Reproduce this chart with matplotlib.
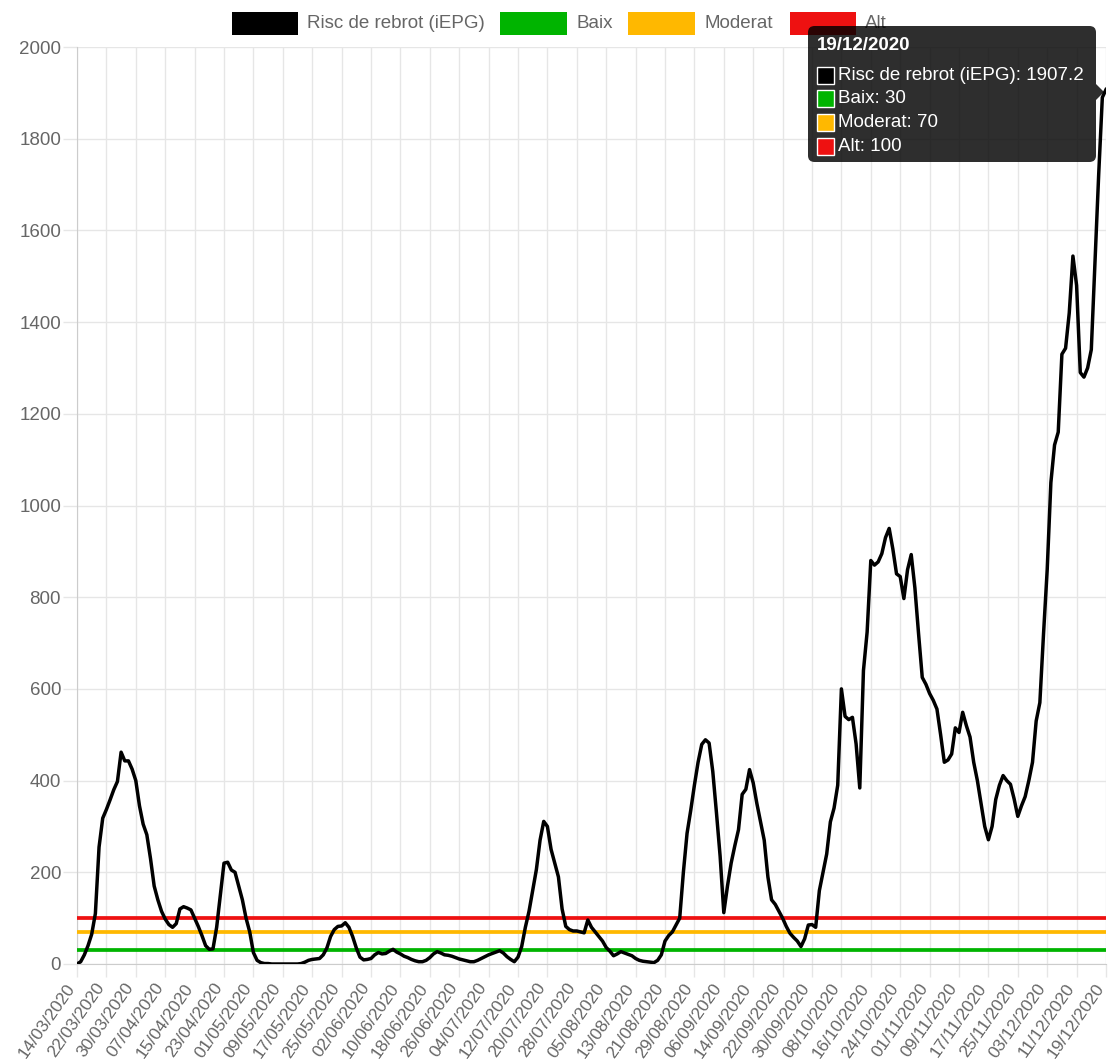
import numpy as np
import pandas as pd
import matplotlib
matplotlib.use('Agg')
import matplotlib.pyplot as plt
import matplotlib.transforms as mtransforms
from matplotlib.patches import Rectangle, FancyBboxPatch, Polygon

plt.rcParams['font.family'] = ['Liberation Sans', 'DejaVu Sans']

# Data: daily iEPG values from 14/03/2020 to 19/12/2020
start_date = '2020-03-14'
end_date = '2020-12-19'

risc = [
    0, 5, 20, 40, 65, 110, 255, 318, 337, 358,
    380, 398, 462, 443, 443, 425, 400, 345, 305, 282,
    230, 170, 140, 115, 98, 86, 80, 88, 120, 125,
    122, 118, 100, 82, 62, 40, 32, 33, 80, 150,
    220, 222, 205, 200, 170, 140, 100, 70, 25, 8,
    3, 1, 1, 0, 0, 0, 0, 0, 0, 0,
    0, 1, 4, 8, 10, 11, 12, 20, 35, 60,
    75, 82, 83, 90, 80, 60, 35, 15, 9, 10,
    12, 20, 25, 22, 23, 28, 32, 26, 22, 17,
    14, 10, 7, 5, 5, 8, 14, 22, 27, 24,
    20, 19, 17, 14, 11, 9, 7, 5, 5, 8,
    12, 16, 20, 23, 26, 29, 24, 16, 10, 5,
    15, 38, 80, 115, 160, 206, 270, 311, 300, 250,
    220, 190, 120, 82, 75, 72, 72, 70, 68, 96,
    80, 70, 60, 50, 36, 28, 18, 22, 27, 24,
    21, 18, 12, 8, 6, 5, 4, 3, 8, 20,
    50, 62, 70, 85, 100, 200, 285, 335, 390, 440,
    479, 489, 482, 420, 330, 235, 112, 170, 220, 258,
    293, 370, 381, 424, 395, 350, 310, 270, 190, 140,
    130, 115, 100, 82, 67, 58, 50, 38, 55, 85,
    86, 80, 160, 200, 240, 310, 340, 390, 600, 540,
    533, 538, 480, 384, 640, 724, 880, 870, 877, 895,
    930, 950, 905, 851, 845, 797, 860, 893, 820, 720,
    625, 610, 590, 575, 556, 500, 440, 445, 458, 515,
    505, 549, 520, 495, 440, 400, 350, 300, 271, 300,
    359, 390, 411, 400, 392, 360, 322, 345, 365, 400,
    440, 530, 570, 720, 860, 1050, 1132, 1160, 1330, 1343,
    1420, 1544, 1480, 1290, 1280, 1300, 1340, 1530, 1720, 1890,
    1907.2,
]

baix = 30
moderat = 70
alt = 100

series_names = ['Risc de rebrot (iEPG)', 'Baix', 'Moderat', 'Alt']
series_colors = ['#000000', '#00b400', '#ffb800', '#ee1111']

dates = pd.date_range(start_date, end_date, freq='D')
labels = [d.strftime('%d/%m/%Y') for d in dates]
days = np.arange(len(dates))

W, H = 1110, 1059
fig = plt.figure(figsize=(W / 100, H / 100), dpi=100)
ax = fig.add_axes([77 / W, 1 - 964 / H, (1106 - 77) / W, (964 - 47) / H])

grid_c = '#e6e6e6'
txt_c = '#666666'

ax.plot(days, [alt] * len(days), color=series_colors[3], lw=2.7, zorder=3)
ax.plot(days, [moderat] * len(days), color=series_colors[2], lw=2.7, zorder=3)
ax.plot(days, [baix] * len(days), color=series_colors[1], lw=2.7, zorder=3)
ax.plot(days, risc, color='black', lw=2.5, zorder=4, solid_joinstyle='round')

ax.set_xlim(0, len(days) - 1)
ax.set_ylim(0, 2000)
ax.set_yticks(np.arange(0, 2001, 200))
ax.set_xticks(days[::8])
ax.set_xticklabels(labels[::8], rotation=55, ha='right', va='center',
                   rotation_mode='anchor')

ax.grid(True, color=grid_c, lw=1, zorder=0)
ax.tick_params(axis='both', colors=grid_c, labelcolor=txt_c, labelsize=13.5,
               length=10, width=1, pad=1.5)
ax.tick_params(axis='x', labelsize=12.5, length=9, pad=6)
for s in ['top', 'right']:
    ax.spines[s].set_visible(False)
for s in ['left', 'bottom']:
    ax.spines[s].set_color('#cccccc')

# nudge rotated date labels a little to the left so the last one fits
shift = mtransforms.ScaledTranslation(-5 / 100, 0, fig.dpi_scale_trans)
for lab in ax.get_xticklabels():
    lab.set_transform(lab.get_transform() + shift)

# legend drawn at the top
def px_rect(x0, y0, x1, y1, **kw):
    return Rectangle((x0 / W, 1 - y1 / H), (x1 - x0) / W, (y1 - y0) / H,
                     transform=fig.transFigure, **kw)

leg_boxes = [(232, 298), (500, 567), (628, 695), (790, 856)]
for (x0, x1), name, col in zip(leg_boxes, series_names, series_colors):
    fig.add_artist(px_rect(x0, 12, x1, 35, facecolor=col, edgecolor='none'))
    fig.text((x1 + 9) / W, 1 - 24 / H, name, color=txt_c, fontsize=13.5, va='center', ha='left')

# tooltip for the last point
tip = FancyBboxPatch((808 / W, 1 - 162 / H), (1096 - 808) / W, (162 - 26) / H,
                     boxstyle='round,pad=0,rounding_size=0.006',
                     transform=fig.transFigure, facecolor='black', alpha=0.82,
                     edgecolor='none', zorder=10)
fig.add_artist(tip)
caret = Polygon([(1096 / W, 1 - 84 / H), (1104 / W, 1 - 92 / H), (1096 / W, 1 - 100 / H)],
                closed=True, transform=fig.transFigure, facecolor='black', alpha=0.82,
                edgecolor='none', zorder=10)
fig.add_artist(caret)
fig.text(817 / W, 1 - 46 / H, labels[-1], color='white', fontsize=13.5,
         fontweight='bold', va='center', ha='left', zorder=11)
tip_values = [risc[-1], baix, moderat, alt]
for i, (name, col, v) in enumerate(zip(series_names, series_colors, tip_values)):
    yc = 75 + i * 23.7
    fig.add_artist(px_rect(817, yc - 8.5, 834, yc + 8.5, facecolor=col,
                           edgecolor='white', lw=1, zorder=11))
    fig.text(838 / W, 1 - yc / H, f'{name}: {v:g}', color='white', fontsize=13.5,
             va='center', ha='left', zorder=11)

fig.savefig('out.png', dpi=100)
